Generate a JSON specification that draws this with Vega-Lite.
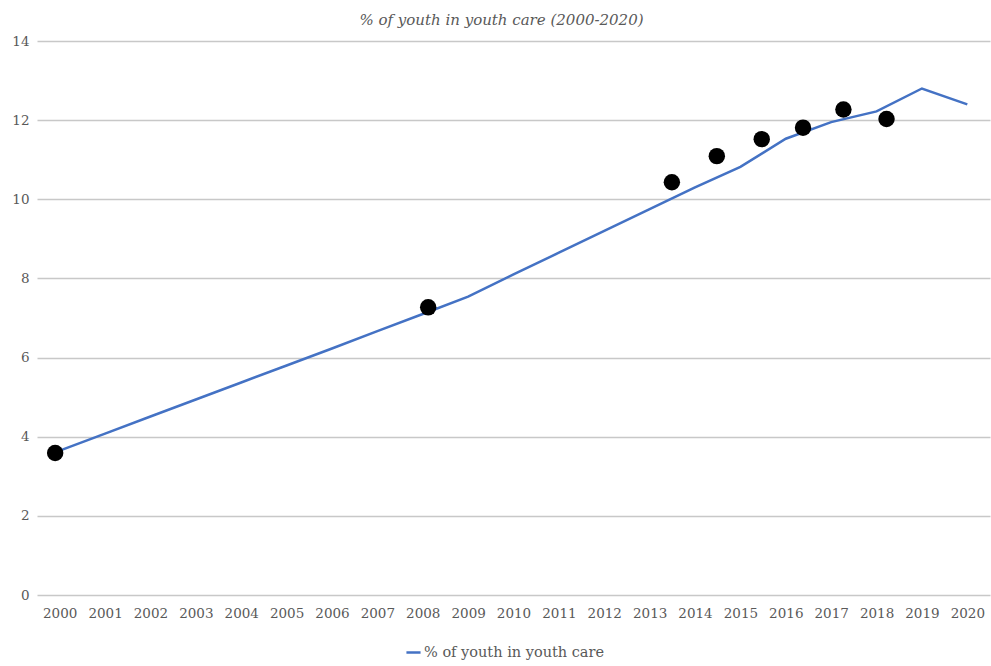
{
  "$schema": "https://vega.github.io/schema/vega-lite/v6.json",
  "width": 953,
  "height": 554,
  "autosize": {"type": "none"},
  "padding": {"left": 37, "top": 41, "right": 1, "bottom": 71},
  "background": "white",
  "title": {
    "text": "% of youth in youth care (2000-2020)",
    "font": "DejaVu Serif",
    "fontStyle": "italic",
    "fontWeight": "normal",
    "fontSize": 15,
    "color": "#595959",
    "anchor": "middle",
    "dx": -12,
    "offset": 6
  },
  "datasets": {
    "line": [
      {"year": 2000, "value": 3.65, "series": "% of youth in youth care"},
      {"year": 2001, "value": 4.08, "series": "% of youth in youth care"},
      {"year": 2002, "value": 4.51, "series": "% of youth in youth care"},
      {"year": 2003, "value": 4.94, "series": "% of youth in youth care"},
      {"year": 2004, "value": 5.37, "series": "% of youth in youth care"},
      {"year": 2005, "value": 5.8, "series": "% of youth in youth care"},
      {"year": 2006, "value": 6.23, "series": "% of youth in youth care"},
      {"year": 2007, "value": 6.67, "series": "% of youth in youth care"},
      {"year": 2008, "value": 7.1, "series": "% of youth in youth care"},
      {"year": 2009, "value": 7.54, "series": "% of youth in youth care"},
      {"year": 2010, "value": 8.1, "series": "% of youth in youth care"},
      {"year": 2011, "value": 8.65, "series": "% of youth in youth care"},
      {"year": 2012, "value": 9.2, "series": "% of youth in youth care"},
      {"year": 2013, "value": 9.75, "series": "% of youth in youth care"},
      {"year": 2014, "value": 10.3, "series": "% of youth in youth care"},
      {"year": 2015, "value": 10.82, "series": "% of youth in youth care"},
      {"year": 2016, "value": 11.53, "series": "% of youth in youth care"},
      {"year": 2017, "value": 11.95, "series": "% of youth in youth care"},
      {"year": 2018, "value": 12.22, "series": "% of youth in youth care"},
      {"year": 2019, "value": 12.8, "series": "% of youth in youth care"},
      {"year": 2020, "value": 12.4, "series": "% of youth in youth care"}
    ],
    "dots": [
      {"year": 1999.9, "value": 3.59},
      {"year": 2008.12, "value": 7.27},
      {"year": 2013.49, "value": 10.43},
      {"year": 2014.48, "value": 11.09},
      {"year": 2015.47, "value": 11.52},
      {"year": 2016.38, "value": 11.81},
      {"year": 2017.27, "value": 12.27},
      {"year": 2018.22, "value": 12.03}
    ]
  },
  "layer": [
    {
      "data": {"name": "line"},
      "mark": {"type": "line", "strokeWidth": 2.5, "interpolate": "linear"},
      "encoding": {
        "x": {
          "field": "year",
          "type": "quantitative",
          "scale": {"domain": [1999.5, 2020.5], "nice": false, "zero": false},
          "axis": {
            "title": null,
            "values": [2000, 2001, 2002, 2003, 2004, 2005, 2006, 2007, 2008, 2009, 2010, 2011, 2012, 2013, 2014, 2015, 2016, 2017, 2018, 2019, 2020],
            "format": "d",
            "grid": false,
            "ticks": false,
            "domain": false,
            "labelPadding": 11,
            "labelFont": "DejaVu Serif",
            "labelFontSize": 13.5,
            "labelColor": "#595959"
          }
        },
        "y": {
          "field": "value",
          "type": "quantitative",
          "scale": {"domain": [0, 14], "nice": false},
          "axis": {
            "title": null,
            "values": [0, 2, 4, 6, 8, 10, 12, 14],
            "grid": true,
            "gridColor": "#c8c8c8",
            "gridWidth": 1.5,
            "ticks": false,
            "domain": false,
            "labelPadding": 8,
            "labelFont": "DejaVu Serif",
            "labelFontSize": 13.5,
            "labelColor": "#595959"
          }
        },
        "color": {
          "field": "series",
          "type": "nominal",
          "scale": {"range": ["#4472C4"]},
          "legend": {
            "title": null,
            "orient": "none",
            "legendX": 368,
            "legendY": 603,
            "symbolType": "stroke",
            "symbolStrokeWidth": 2.5,
            "symbolSize": 200,
            "labelFont": "DejaVu Serif",
            "labelFontSize": 14.5,
            "labelColor": "#595959",
            "labelOffset": 2,
            "labelLimit": 400
          }
        }
      }
    },
    {
      "data": {"name": "dots"},
      "mark": {"type": "point", "filled": true, "color": "black", "opacity": 1, "size": 270},
      "encoding": {
        "x": {"field": "year", "type": "quantitative"},
        "y": {"field": "value", "type": "quantitative"}
      }
    }
  ],
  "config": {
    "view": {"stroke": null}
  }
}
